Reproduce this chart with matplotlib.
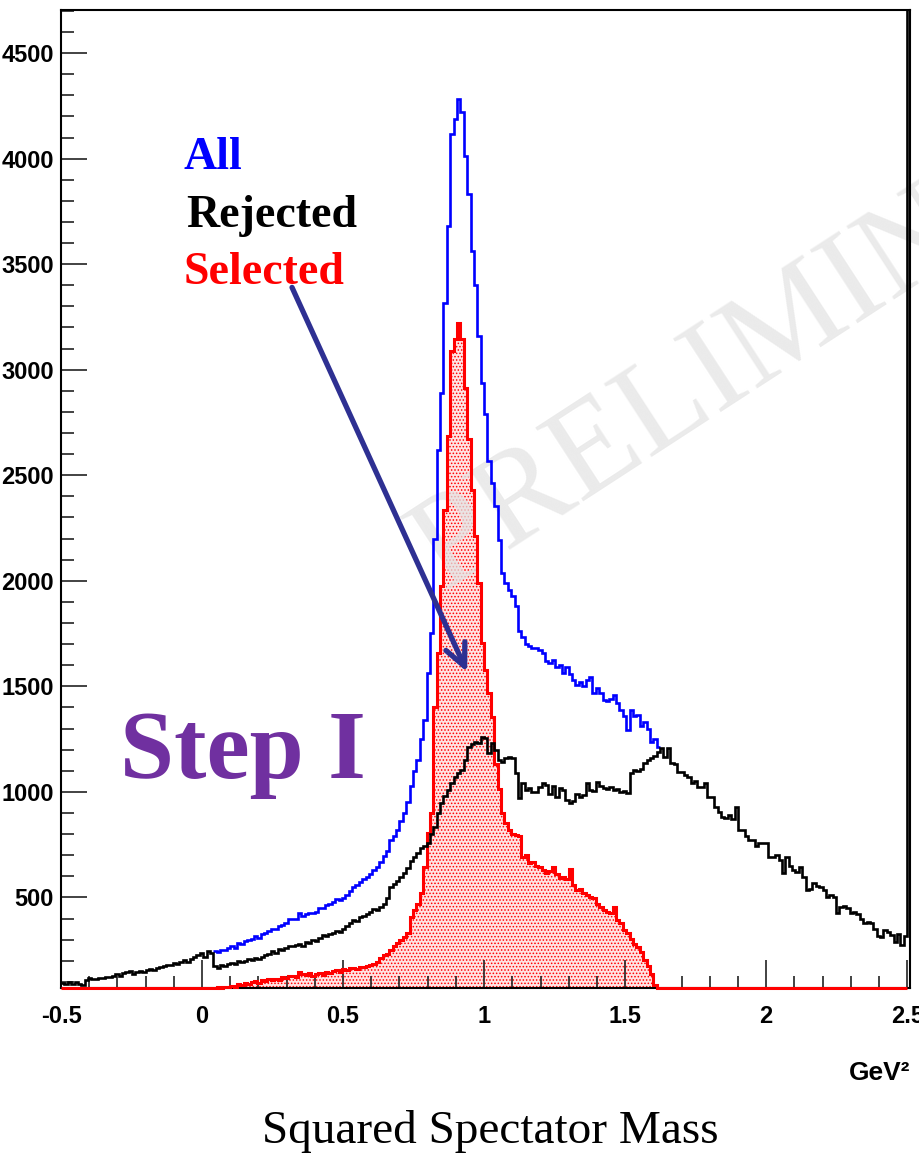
import matplotlib
matplotlib.use('Agg')
import matplotlib.pyplot as plt
import numpy as np
from matplotlib.ticker import FixedLocator, MultipleLocator

# histogram binning (GeV^2)
bin_width = 0.012
x_low = -0.5
all_start = 0.04   # first bin where "All" differs from "Rejected"

# Rejected events, 250 bins from -0.5 to 2.5 plus the overflow bin
rejected = [
    95, 88, 100, 92, 98, 90, 85, 110, 118, 112,
    115, 120, 118, 125, 122, 128, 135, 130, 140, 145,
    150, 138, 145, 152, 148, 158, 162, 155, 168, 172,
    175, 182, 178, 190, 186, 195, 205, 192, 210, 218,
    225, 236, 218, 244, 238, 175, 168, 180, 174, 186,
    190, 184, 198, 192, 200, 210, 204, 215, 208, 220,
    225, 232, 245, 238, 255, 250, 262, 272, 268, 276,
    280, 272, 290, 286, 298, 292, 310, 322, 316, 328,
    330, 342, 336, 350, 365, 378, 392, 388, 405, 412,
    420, 432, 445, 440, 455, 470, 498, 550, 565, 580,
    598, 615, 640, 672, 690, 710, 735, 745, 757, 800,
    835, 900, 947, 980, 1009, 1040, 1072, 1090, 1104, 1150,
    1214, 1225, 1238, 1230, 1262, 1256, 1184, 1232, 1200, 1151,
    1143, 1160, 1167, 1160, 1090, 971, 1042, 1009, 1020, 1000,
    1000, 1025, 1042, 1035, 990, 1030, 977, 1020, 1010, 960,
    947, 955, 990, 977, 985, 1040, 1010, 1005, 1048, 1030,
    1020, 1015, 1025, 1009, 1012, 1000, 1005, 995, 1090, 1104,
    1098, 1110, 1137, 1150, 1160, 1170, 1190, 1208, 1167, 1208,
    1137, 1130, 1096, 1096, 1080, 1070, 1042, 1050, 1025, 1025,
    1040, 977, 977, 930, 905, 882, 876, 890, 870, 930,
    819, 819, 790, 772, 772, 745, 760, 757, 757, 693,
    693, 700, 677, 615, 693, 650, 630, 620, 645, 598,
    535, 540, 567, 555, 550, 535, 503, 510, 500, 424,
    455, 460, 450, 424, 430, 420, 400, 377, 385, 377,
    350, 318, 313, 345, 335, 320, 290, 325, 274, 315,
    6000,
]

# Selected events, 250 bins from -0.5 to 2.5
selected = [
    0, 0, 0, 0, 0, 0, 0, 0, 0, 0,
    0, 0, 0, 0, 0, 0, 0, 0, 0, 0,
    0, 0, 0, 0, 0, 0, 0, 0, 0, 0,
    0, 0, 0, 0, 0, 0, 0, 0, 0, 0,
    0, 0, 0, 0, 0, 72, 75, 70, 78, 74,
    82, 78, 88, 85, 95, 90, 98, 102, 96, 108,
    104, 112, 108, 115, 110, 122, 118, 126, 130, 124,
    145, 138, 132, 140, 128, 135, 142, 131, 148, 140,
    150, 155, 148, 160, 158, 165, 168, 162, 172, 170,
    176, 180, 187, 195, 212, 225, 234, 250, 268, 282,
    300, 313, 330, 408, 440, 470, 519, 645, 805, 900,
    1404, 1659, 1973, 2337, 2685, 3088, 3144, 3223, 3144, 2915,
    2670, 2432, 2211, 1990, 1705, 1578, 1469, 1357, 1130, 1015,
    898, 851, 819, 800, 796, 790, 693, 700, 661, 668,
    650, 645, 630, 614, 625, 645, 610, 590, 595, 585,
    637, 560, 535, 540, 520, 512, 503, 498, 470, 455,
    440, 432, 425, 455, 392, 380, 345, 330, 305, 280,
    266, 240, 203, 175, 139, 84, 0, 0, 0, 0,
    0, 0, 0, 0, 0, 0, 0, 0, 0, 0,
    0, 0, 0, 0, 0, 0, 0, 0, 0, 0,
    0, 0, 0, 0, 0, 0, 0, 0, 0, 0,
    0, 0, 0, 0, 0, 0, 0, 0, 0, 0,
    0, 0, 0, 0, 0, 0, 0, 0, 0, 0,
    0, 0, 0, 0, 0, 0, 0, 0, 0, 0,
    0, 0, 0, 0, 0, 0, 0, 0, 0, 0,
]

# All events, from 0.04 to 1.624 (elsewhere identical to Rejected)
all_events = [
    247, 243, 250, 252, 260,
    268, 262, 284, 280, 292, 298, 302, 315, 306, 325,
    330, 342, 352, 350, 364, 370, 380, 396, 398, 400,
    424, 410, 420, 428, 424, 430, 452, 450, 462, 468,
    480, 494, 490, 495, 512, 530, 548, 560, 574, 585,
    598, 612, 632, 645, 668, 695, 720, 772, 790, 819,
    860, 898, 950, 1030, 1100, 1151, 1250, 1341, 1563, 1752,
    2200, 2620, 2891, 3318, 3681, 4116, 4190, 4282, 4219, 4013,
    3830, 3560, 3400, 3159, 2938, 2790, 2567, 2464, 2353, 2195,
    2037, 1990, 1958, 1930, 1880, 1760, 1736, 1700, 1690, 1681,
    1681, 1673, 1660, 1618, 1610, 1626, 1590, 1600, 1563, 1594,
    1560, 1530, 1507, 1520, 1500, 1531, 1545, 1468, 1490, 1470,
    1436, 1430, 1440, 1460, 1420, 1389, 1360, 1294, 1389, 1360,
    1364, 1310, 1330, 1300, 1238, 1250, 1214,
]

x_ticks = [-0.5, 0, 0.5, 1, 1.5, 2, 2.5]
x_tick_labels = ['-0.5', '0', '0.5', '1', '1.5', '2', '2.5']
y_ticks = [500, 1000, 1500, 2000, 2500, 3000, 3500, 4000, 4500]
y_tick_labels = ['500', '1000', '1500', '2000', '2500', '3000', '3500', '4000', '4500']
y_min, y_max = 71, 4704
x_max = 2.51

tick_font = ['Liberation Sans', 'DejaVu Sans']
serif = ['Liberation Serif', 'DejaVu Serif']
plt.rcParams['hatch.linewidth'] = 0.7

fig = plt.figure(figsize=(9.2, 11.56), dpi=100)
ax = fig.add_axes([61 / 920, 1 - 988 / 1156, 849 / 920, 978 / 1156])

edges_rej = x_low + bin_width * np.arange(len(rejected) + 1)
edges_sel = x_low + bin_width * np.arange(len(selected) + 1)
edges_all = all_start + bin_width * np.arange(len(all_events) + 1)

# ROOT draws bins below the minimum on the frame
sel_shown = np.maximum(np.array(selected, dtype=float), y_min)

ax.stairs(all_events, edges_all, baseline=None, color='#0000ff', lw=1.9, zorder=3)
ax.stairs(sel_shown, edges_sel, baseline=y_min, fill=True, facecolor='#ffe3e3',
          edgecolor='#ff0000', hatch='.....', lw=0, zorder=1.5)
ax.stairs(sel_shown, edges_sel, baseline=None, color='#ff0000', lw=2.2, zorder=4,
          clip_on=False)
ax.stairs(rejected, edges_rej, baseline=None, color='black', lw=1.9, zorder=5)

ax.set_xlim(x_low, x_max)
ax.set_ylim(y_min, y_max)

ax.xaxis.set_major_locator(FixedLocator(x_ticks))
ax.set_xticklabels(x_tick_labels, family=tick_font, weight='bold', fontsize=17)
ax.xaxis.set_minor_locator(MultipleLocator(0.1))
ax.yaxis.set_major_locator(FixedLocator(y_ticks))
ax.set_yticklabels(y_tick_labels, family=tick_font, weight='bold', fontsize=17)
ax.yaxis.set_minor_locator(MultipleLocator(100))

ax.tick_params(axis='both', which='both', direction='in', color='#222222', width=1.2,
               top=False, right=False)
ax.tick_params(axis='x', which='major', length=20, pad=12)
ax.tick_params(axis='x', which='minor', length=9)
ax.tick_params(axis='y', which='major', length=19, pad=5)
ax.tick_params(axis='y', which='minor', length=9)
for s in ax.spines.values():
    s.set_linewidth(1.5)

# watermark
ax.text(443 / 920, 1 - 590 / 1156, 'PRELIMINARY', transform=fig.transFigure,
        rotation=33, rotation_mode='anchor', ha='left', va='baseline',
        fontsize=96, family=serif, color='#e4e4e4', alpha=0.75, zorder=2,
        clip_on=False)

# legend texts
ax.text(-0.067, 3950, 'All', color='#0000ff', family=serif, weight='bold', fontsize=33)
ax.text(-0.056, 3675, 'Rejected', color='black', family=serif, weight='bold', fontsize=33)
ax.text(-0.067, 3404, 'Selected', color='#ff0000', family=serif, weight='bold', fontsize=33)
ax.text(-0.29, 1065, 'Step I', color='#7030a0', family=serif, weight='bold', fontsize=70)

ax.annotate('', xy=(0.94, 1568), xytext=(0.319, 3390),
            arrowprops=dict(arrowstyle='->,head_length=1.6,head_width=0.75',
                            color='#2e3092', lw=3.8, shrinkA=0, shrinkB=0),
            zorder=6)

fig.text(910 / 920, 1 - 1080 / 1156, 'GeV²', ha='right', va='baseline',
         family=tick_font, weight='bold', fontsize=19)
fig.text(490 / 920, 1 - 1143 / 1156, 'Squared Spectator Mass', ha='center',
         va='baseline', family=serif, fontsize=34)

fig.savefig('out.png', dpi=100, facecolor='white')
